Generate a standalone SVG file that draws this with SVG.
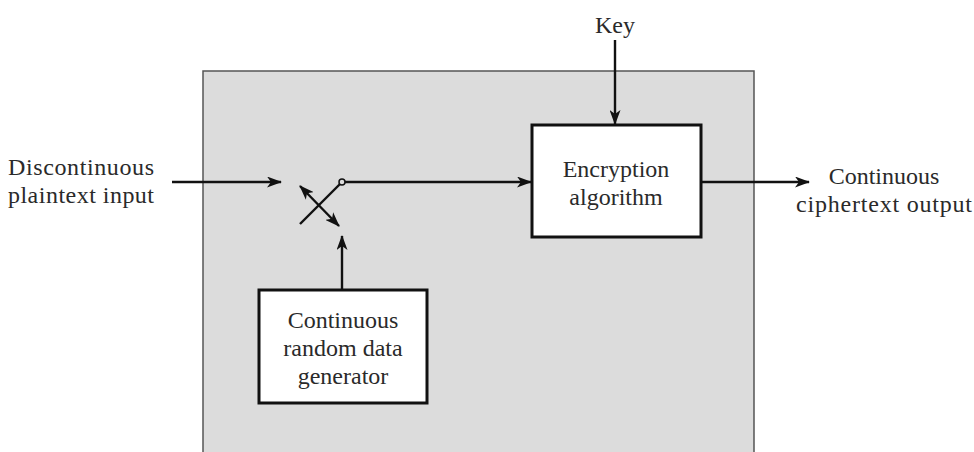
<svg xmlns="http://www.w3.org/2000/svg" width="974" height="452" viewBox="0 0 974 452">
<style>
.t{font-family:"Liberation Serif","Times New Roman",serif;font-size:24px;fill:#2a2a2a}
.box{fill:#fff;stroke:#111;stroke-width:3}
.ln{stroke:#111;stroke-width:2.4;fill:none}
</style>
<defs>
<marker id="ah" markerWidth="15" markerHeight="11" refX="14" refY="5.5" orient="auto" markerUnits="userSpaceOnUse">
<path d="M0,0 L15,5.5 L0,11 L4,5.5 Z" fill="#111"/>
</marker>
<marker id="ahs" markerWidth="15" markerHeight="11" refX="1" refY="5.5" orient="auto" markerUnits="userSpaceOnUse">
<path d="M15,0 L0,5.5 L15,11 L11,5.5 Z" fill="#111"/>
</marker>
</defs>
<rect width="974" height="452" fill="#fff"/>
<g id="container">
<rect x="203" y="71" width="551" height="390" fill="#dcdcdc" stroke="#555" stroke-width="1.5"/>
</g>
<g id="input-label">
<text class="t" x="81" y="175" text-anchor="middle" textLength="146">Discontinuous</text>
<text class="t" x="81" y="203" text-anchor="middle" textLength="146">plaintext input</text>
</g>
<g id="key-label">
<text class="t" x="615" y="33" text-anchor="middle">Key</text>
</g>
<g id="encryption">
<rect class="box" x="532" y="125" width="169" height="112"/>
<text class="t" x="616" y="177" text-anchor="middle">Encryption</text>
<text class="t" x="616" y="205" text-anchor="middle">algorithm</text>
</g>
<g id="generator">
<rect class="box" x="259" y="290" width="168" height="113"/>
<text class="t" x="343" y="328" text-anchor="middle">Continuous</text>
<text class="t" x="343" y="356" text-anchor="middle">random data</text>
<text class="t" x="343" y="384" text-anchor="middle">generator</text>
</g>
<g id="output-label">
<text class="t" x="884" y="184" text-anchor="middle">Continuous</text>
<text class="t" x="884" y="212" text-anchor="middle" textLength="176">ciphertext output</text>
</g>
<g id="switch">
<circle cx="342" cy="182" r="3" fill="none" stroke="#111" stroke-width="1.5"/>
<line class="ln" x1="340" y1="184" x2="300" y2="224"/>
</g>
<g id="connectors">
<line class="ln" x1="172" y1="182" x2="281" y2="182" marker-end="url(#ah)"/>
<line class="ln" x1="345" y1="182" x2="531" y2="182" marker-end="url(#ah)"/>
<line class="ln" x1="615" y1="40" x2="615" y2="124" marker-end="url(#ah)"/>
<line class="ln" x1="701" y1="182" x2="809" y2="182" marker-end="url(#ah)"/>
<line class="ln" x1="342" y1="289" x2="342" y2="236" marker-end="url(#ah)"/>
<line class="ln" x1="300" y1="186" x2="339" y2="226" marker-start="url(#ahs)" marker-end="url(#ah)"/>
</g>
</svg>
